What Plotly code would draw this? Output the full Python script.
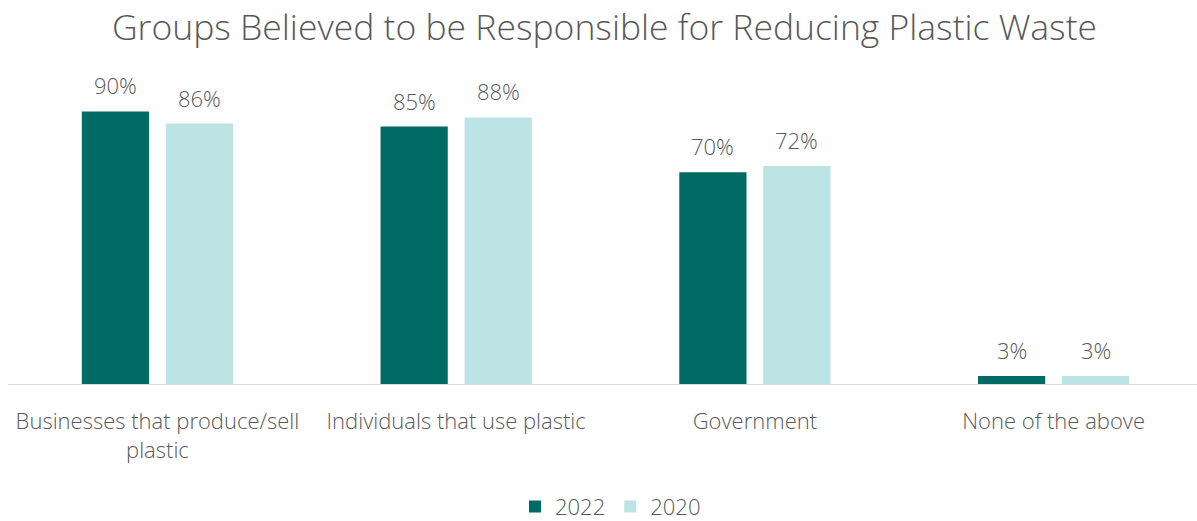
import plotly.graph_objects as go

categories = ["Businesses that produce/sell<br>plastic", "Individuals that use plastic",
              "Government", "None of the above"]
values_2022 = [90, 85, 70, 3]
values_2020 = [86, 88, 72, 3]

TEXT = "#595959"
FONT = "Open Sans"
DARK = "#006B64"
LIGHT = "#BCE4E4"

fig = go.Figure()
fig.add_bar(name="2022", x=categories, y=values_2022, marker_color=DARK, marker_line_width=0)
fig.add_bar(name="2020", x=categories, y=values_2020, marker_color=LIGHT, marker_line_width=0)

# value labels above each bar, offset to the matching bar of the group
for series, shift in ((values_2022, -42), (values_2020, 42)):
    for cat, v in zip(categories, series):
        fig.add_annotation(x=cat, y=v, text=f"{v}%", showarrow=False,
                           xshift=shift, yshift=26, yanchor="middle",
                           font=dict(size=22, color=TEXT, family=FONT, weight=300))

# baseline
fig.add_shape(type="line", xref="paper", yref="y", x0=0.0067, x1=1, y0=0, y1=0,
              line=dict(color="#D9D9D9", width=2))

fig.update_layout(
    width=1197, height=521,
    margin=dict(l=0, r=0, t=81, b=136, autoexpand=False),
    paper_bgcolor="white", plot_bgcolor="white",
    barmode="group", bargap=0.4376, bargroupgap=0.2,
    title=dict(text="Groups Believed to be Responsible for Reducing Plastic Waste",
               x=0.505, xanchor="center", y=0.947, yanchor="middle",
               font=dict(size=35.5, color=TEXT, family=FONT, weight=300)),
    xaxis=dict(range=[-0.527, 3.48], showline=False, ticks="", ticklabelstandoff=21,
               automargin=False,
               tickfont=dict(size=22, color=TEXT, family=FONT, weight=300)),
    yaxis=dict(range=[0, 100], visible=False, automargin=False),
    legend=dict(orientation="h", x=0.51, xanchor="center", y=-0.40, yanchor="middle",
                font=dict(size=22, color=TEXT, family=FONT, weight=300),
                itemwidth=30, traceorder="normal", borderwidth=0),
)

fig.write_html("out.html")
